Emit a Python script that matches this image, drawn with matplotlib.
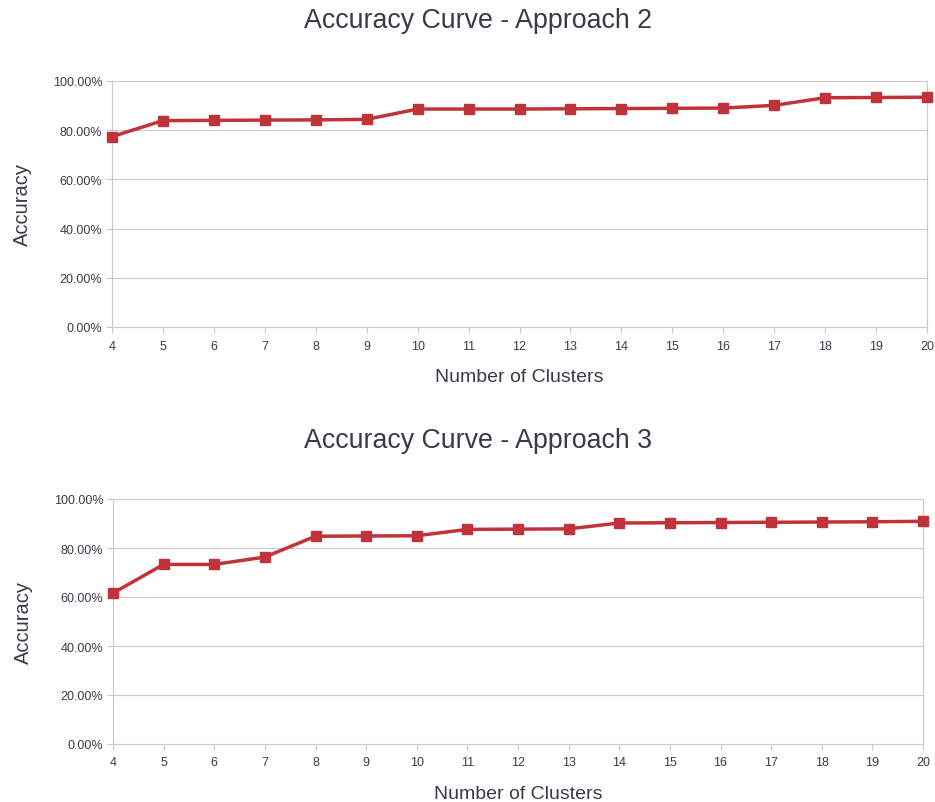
import matplotlib
matplotlib.use("Agg")
import matplotlib.pyplot as plt
from matplotlib.ticker import PercentFormatter

plt.rcParams['font.family'] = ['Liberation Sans', 'DejaVu Sans']

clusters = list(range(4, 21))
acc_approach2 = [77.4, 83.9, 84.0, 84.1, 84.2, 84.4, 88.6, 88.6, 88.6, 88.7,
                 88.8, 88.9, 89.0, 90.1, 93.2, 93.3, 93.4]
acc_approach3 = [61.6, 73.3, 73.3, 76.3, 84.8, 84.9, 85.0, 87.6, 87.7, 87.8,
                 90.2, 90.3, 90.4, 90.5, 90.6, 90.7, 90.9]
titles = ["Accuracy Curve - Approach 2", "Accuracy Curve - Approach 3"]
yticks = [0, 20, 40, 60, 80, 100]

text_color = '#3a3a4a'
grid_color = '#c8c8d8'
line_color = '#c0333b'

fig = plt.figure(figsize=(9.35, 8.03), dpi=100)
W, H = 935, 803
# axes rects in pixels: left, top, right, bottom
rects = [(112, 82, 927, 328), (113, 500, 923, 745)]
title_y = [21, 441]

for rect, vals, title, ty in zip(rects, [acc_approach2, acc_approach3], titles, title_y):
    l, t, r, b = rect
    ax = fig.add_axes([l / W, 1 - b / H, (r - l) / W, (b - t) / H])
    ax.plot(clusters, vals, color=line_color, lw=2.5, marker='s', ms=7.5,
            markerfacecolor=line_color, markeredgecolor=line_color, clip_on=False, zorder=3)
    ax.set_xlim(4, 20)
    ax.set_ylim(0, 100)
    ax.set_xticks(clusters)
    ax.set_yticks(yticks)
    ax.yaxis.set_major_formatter(PercentFormatter(decimals=2))
    ax.grid(axis='y', color=grid_color, lw=0.8)
    ax.spines['top'].set_visible(False)
    for s in ['left', 'right', 'bottom']:
        ax.spines[s].set_color(grid_color)
        ax.spines[s].set_linewidth(0.8)
    ax.tick_params(axis='x', direction='out', length=4, color=grid_color,
                   labelsize=9, labelcolor=text_color, pad=5)
    ax.tick_params(axis='y', direction='out', length=4, color=grid_color,
                   labelsize=9, labelcolor=text_color, pad=3)
    ax.set_xlabel("Number of Clusters", fontsize=14, color=text_color, labelpad=12)
    ax.set_ylabel("Accuracy", fontsize=14.5, color=text_color, labelpad=15)
    fig.text(478 / W, 1 - ty / H, title, ha='center', va='center',
             fontsize=19.3, color=text_color)

fig.savefig("out.png", dpi=100)
